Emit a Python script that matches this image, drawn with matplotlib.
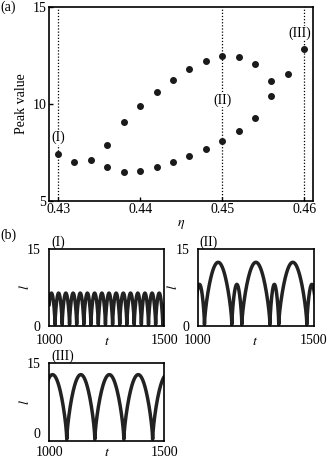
import numpy as np
import matplotlib.pyplot as plt

plt.rcParams['font.family'] = ['Liberation Serif', 'DejaVu Serif']
plt.rcParams['font.size'] = 10
plt.rcParams['mathtext.fontset'] = 'stix'

# (a) peak values vs eta
eta_low = [0.430, 0.432, 0.434, 0.436, 0.438, 0.440, 0.442, 0.444, 0.446, 0.448,
           0.450, 0.452, 0.454, 0.456, 0.458, 0.460]
peak_low = [7.42, 6.97, 7.10, 6.72, 6.46, 6.53, 6.72, 6.99, 7.30, 7.66,
            8.09, 8.61, 9.28, 10.41, 11.55, 12.82]
eta_high = [0.436, 0.438, 0.440, 0.442, 0.444, 0.446, 0.448, 0.450, 0.452, 0.454, 0.456]
peak_high = [7.87, 9.04, 9.88, 10.60, 11.25, 11.80, 12.23, 12.44, 12.41, 12.05, 11.17]
mark_eta = [0.43, 0.45, 0.46]
mark_names = ['(I)', '(II)', '(III)']
mark_text_pos = [(0.430, 8.25), (0.450, 10.2), (0.4594, 13.65)]

# (b) time series, read as the times of the minima and the height of each arch
dips_1 = [995, 1026, 1057, 1089, 1120, 1151, 1182, 1214, 1245, 1276, 1307, 1338,
          1370, 1401, 1432, 1463, 1494, 1526]
tops_1 = [6.4] * 17
dips_2 = [987, 1030, 1148, 1191, 1312, 1350, 1471, 1514]
tops_2 = [8.1, 12.4, 8.1, 12.4, 8.1, 12.4, 8.1]
dips_3 = [953, 1077, 1199, 1325, 1450, 1574]
tops_3 = [12.8, 12.8, 12.8, 12.8, 12.8]


def arch_curve(dips, tops, floor=0.3, n=80):
    ts, ls = [], []
    for a, b, p in zip(dips[:-1], dips[1:], tops):
        u = np.linspace(0, 1, n)
        ts.append(a + (b - a) * u)
        ls.append(floor + (p - floor) * np.sin(np.pi * u) ** 0.7)
    return np.concatenate(ts), np.concatenate(ls)


fig = plt.figure(figsize=(3.27, 4.61), dpi=100)

ax = fig.add_axes([0.150, 0.565, 0.808, 0.420])
for e in mark_eta:
    ax.axvline(e, color='black', ls=(0, (1, 1.5)), lw=0.9, zorder=1)
ax.plot(eta_low, peak_low, 'o', color='#1a1a1a', ms=4, zorder=3)
ax.plot(eta_high, peak_high, 'o', color='#1a1a1a', ms=4, zorder=3)
for name, (x, y) in zip(mark_names, mark_text_pos):
    ax.text(x, y, name, ha='center', va='center', zorder=2,
            bbox=dict(facecolor='white', edgecolor='none', pad=0.5))
ax.set_xlim(0.4289, 0.4611)
ax.set_ylim(5, 15)
ax.set_xticks([0.43, 0.44, 0.45, 0.46])
ax.set_xticklabels(['0.43', '0.44', '0.45', '0.46'])
ax.set_yticks([5, 10, 15])
ax.set_xlabel(r'$\eta$', labelpad=1)
ax.set_ylabel('Peak value', labelpad=3)
ax.tick_params(direction='in', length=3, width=1, pad=2)
for s in ax.spines.values():
    s.set_linewidth(1.2)
fig.text(0.0, 0.998, '(a)', ha='left', va='top')
fig.text(0.0, 0.505, '(b)', ha='left', va='top')

panels = [
    ([0.150, 0.293, 0.352, 0.167], dips_1, tops_1, '(I)', 6, -0.12, 'center_baseline'),
    ([0.604, 0.293, 0.355, 0.167], dips_2, tops_2, '(II)', 6, -0.12, 'center_baseline'),
    ([0.150, 0.044, 0.352, 0.168], dips_3, tops_3, '(III)', 3.5, -0.07, 'bottom'),
]
for rect, dips, tops, name, xpad, ty, zero_va in panels:
    a = fig.add_axes(rect)
    t, l = arch_curve(dips, tops)
    a.plot(t, l, color='#222222', lw=2.5, solid_capstyle='butt')
    a.set_xlim(1000, 1500)
    a.set_ylim(0, 15)
    a.set_xticks([1000, 1500])
    a.set_yticks([0, 15])
    a.tick_params(axis='x', direction='in', length=0, pad=xpad)
    a.tick_params(axis='y', direction='in', length=0, pad=6)
    a.get_yticklabels()[0].set_verticalalignment(zero_va)
    a.set_xlabel(r'$t$')
    a.xaxis.set_label_coords(0.5, ty)
    a.set_ylabel(r'$l$')
    a.yaxis.set_label_coords(-0.15, 0.5)
    for s in a.spines.values():
        s.set_linewidth(1.2)
    a.text(0.02, 1.0, name, transform=a.transAxes, ha='left', va='bottom')

fig.savefig('out.png', dpi=100)
